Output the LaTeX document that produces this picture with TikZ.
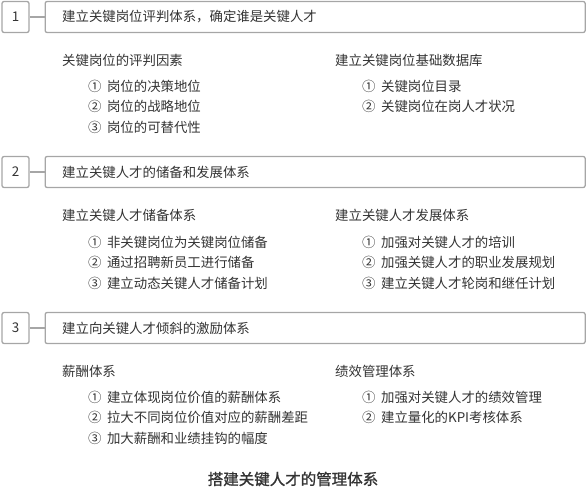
\documentclass[tikz,border=0pt]{standalone}
\usepackage{fontspec}
\setmainfont{Noto Sans CJK SC}
\newfontfamily\titlefont[FakeBold=1.4]{Noto Sans CJK SC}
\definecolor{linec}{HTML}{A6A6A6}
\definecolor{textc}{HTML}{333333}
\newcommand{\gp}{\hspace{2.5bp}}
\tikzset{
  numbox/.style={draw=linec, line width=1.3pt, rounded corners=2pt, minimum width=27bp, minimum height=31bp, inner sep=0pt, text=textc, font=\fontsize{13.4bp}{16bp}\selectfont},
  headbox/.style={draw=linec, line width=1.3pt, rounded corners=2pt, minimum width=540bp, minimum height=31bp, inner sep=0pt, text=textc, font=\fontsize{13.4bp}{16bp}\selectfont},
  boxtext/.style={anchor=west, inner sep=0pt, text=textc, font=\fontsize{13.4bp}{16bp}\selectfont},
  txt/.style={anchor=west, inner sep=0pt, text=textc, font=\fontsize{13.4bp}{16bp}\selectfont},
  conn/.style={draw=linec, line width=1.3pt},
  titletxt/.style={inner sep=0pt, text=textc, font=\titlefont\fontsize{15.5bp}{18bp}\selectfont},
}
\begin{document}
\begin{tikzpicture}[x=1bp,y=-1bp]
\useasboundingbox (0,0) rectangle (586,488);
% Row 1
\node[numbox] (n1) at (15.5,17) {1};
\node[headbox, anchor=west] (b1) at (44.5,17) {};
\node[boxtext] (t1) at (62,17) {建立关键岗位评判体系，确定谁是关键人才};
\draw[conn] (n1.east) -- (b1.west);
\node[txt] (h11) at (62,60) {关键岗位的评判因素};
\node[txt] (i111) at (88,86) {① \gp{}岗位的决策地位};
\node[txt] (i112) at (88,106.5) {② \gp{}岗位的战略地位};
\node[txt] (i113) at (88,127) {③ \gp{}岗位的可替代性};
\node[txt] (h12) at (335,60) {建立关键岗位基础数据库};
\node[txt] (i121) at (362,86) {① \gp{}关键岗位目录};
\node[txt] (i122) at (362,106.5) {② \gp{}关键岗位在岗人才状况};
% Row 2
\node[numbox] (n2) at (15.5,172) {2};
\node[headbox, anchor=west] (b2) at (44.5,172) {};
\node[boxtext] (t2) at (62,172) {建立关键人才的储备和发展体系};
\draw[conn] (n2.east) -- (b2.west);
\node[txt] (h21) at (62,215) {建立关键人才储备体系};
\node[txt] (i211) at (88,242) {① \gp{}非关键岗位为关键岗位储备};
\node[txt] (i212) at (88,262.5) {② \gp{}通过招聘新员工进行储备};
\node[txt] (i213) at (88,283) {③ \gp{}建立动态关键人才储备计划};
\node[txt] (h22) at (335,215) {建立关键人才发展体系};
\node[txt] (i221) at (362,242) {① \gp{}加强对关键人才的培训};
\node[txt] (i222) at (362,262.5) {② \gp{}加强关键人才的职业发展规划};
\node[txt] (i223) at (362,283) {③ \gp{}建立关键人才轮岗和继任计划};
% Row 3
\node[numbox] (n3) at (15.5,328) {3};
\node[headbox, anchor=west] (b3) at (44.5,328) {};
\node[boxtext] (t3) at (62,328) {建立向关键人才倾斜的激励体系};
\draw[conn] (n3.east) -- (b3.west);
\node[txt] (h31) at (62,371) {薪酬体系};
\node[txt] (i311) at (88,397) {① \gp{}建立体现岗位价值的薪酬体系};
\node[txt] (i312) at (88,417.5) {② \gp{}拉大不同岗位价值对应的薪酬差距};
\node[txt] (i313) at (88,438) {③ \gp{}加大薪酬和业绩挂钩的幅度};
\node[txt] (h32) at (335,371) {绩效管理体系};
\node[txt] (i321) at (362,397) {① \gp{}加强对关键人才的绩效管理};
\node[txt] (i322) at (362,417.5) {② \gp{}建立量化的KPI考核体系};
% Title
\node[titletxt] (title) at (293,479) {搭建关键人才的管理体系};
\end{tikzpicture}
\end{document}
